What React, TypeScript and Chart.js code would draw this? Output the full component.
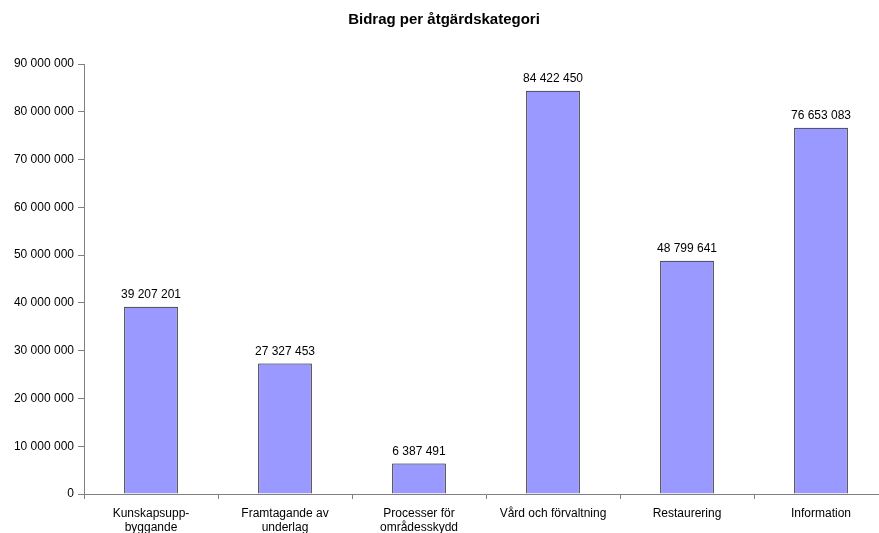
import React, { useEffect, useRef } from "react";
import { Chart, registerables } from "chart.js";

Chart.register(...registerables);

const categories: string[][] = [
  ["Kunskapsupp-", "byggande"],
  ["Framtagande av", "underlag"],
  ["Processer för", "områdesskydd"],
  ["Vård och förvaltning"],
  ["Restaurering"],
  ["Information"],
];
const values: number[] = [39207201, 27327453, 6387491, 84422450, 48799641, 76653083];
const titleText = "Bidrag per åtgärdskategori";
const yMax = 90000000;
const yStep = 10000000;

const fmt = (v: number) => Math.round(v).toString().replace(/\B(?=(\d{3})+(?!\d))/g, " ");

const FONT = "'Liberation Sans', Arial, sans-serif";

const dataLabels = {
  id: "dataLabels",
  afterDatasetsDraw(chart: any) {
    const ctx = chart.ctx;
    const meta = chart.getDatasetMeta(0);
    ctx.save();
    ctx.font = `12px ${FONT}`;
    ctx.fillStyle = "#000";
    ctx.textAlign = "center";
    ctx.textBaseline = "bottom";
    meta.data.forEach((bar: any, i: number) => {
      ctx.fillText(fmt(values[i]), bar.x, bar.y - 6);
    });
    ctx.restore();
  },
};

export default function App() {
  const ref = useRef<HTMLCanvasElement>(null);
  useEffect(() => {
    if (!ref.current) return;
    const chart = new Chart(ref.current, {
      type: "bar",
      data: {
        labels: categories,
        datasets: [
          {
            data: values,
            backgroundColor: "#9999FF",
            borderColor: "#000000",
            borderWidth: 1,
            categoryPercentage: 1,
            barPercentage: 0.4,
          },
        ],
      },
      options: {
        responsive: false,
        animation: false,
        layout: { padding: { left: 0, right: 8, top: 0, bottom: 0 } },
        plugins: {
          legend: { display: false },
          tooltip: { enabled: false },
          title: {
            display: true,
            text: titleText,
            color: "#000",
            font: { family: FONT, size: 15, weight: "bold" },
            padding: { top: 11, bottom: 35 },
          },
        },
        scales: {
          x: {
            offset: true,
            grid: {
              offset: true,
              drawOnChartArea: false,
              drawTicks: true,
              tickLength: 5,
              color: "#808080",
            },
            border: { color: "#808080", width: 1 },
            ticks: {
              color: "#000",
              font: { family: FONT, size: 12 },
              padding: 7,
              maxRotation: 0,
              autoSkip: false,
            },
            afterFit: (s: any) => {
              s.height = 60;
            },
          },
          y: {
            min: 0,
            max: yMax,
            grid: {
              drawOnChartArea: false,
              drawTicks: true,
              tickLength: 6,
              color: "#808080",
            },
            border: { color: "#808080", width: 1 },
            ticks: {
              stepSize: yStep,
              color: "#000",
              font: { family: FONT, size: 12 },
              padding: 4,
              callback: (v: any) => fmt(Number(v)),
            },
            afterFit: (s: any) => {
              s.width = 84;
            },
          },
        },
      },
      plugins: [dataLabels],
    });
    return () => chart.destroy();
  }, []);
  return (
    <div style={{ position: "fixed", left: 0, top: 0, width: 879, height: 533, overflow: "hidden", background: "#fff" }}>
      <canvas ref={ref} width={896} height={554} style={{ display: "block" }} />
    </div>
  );
}
